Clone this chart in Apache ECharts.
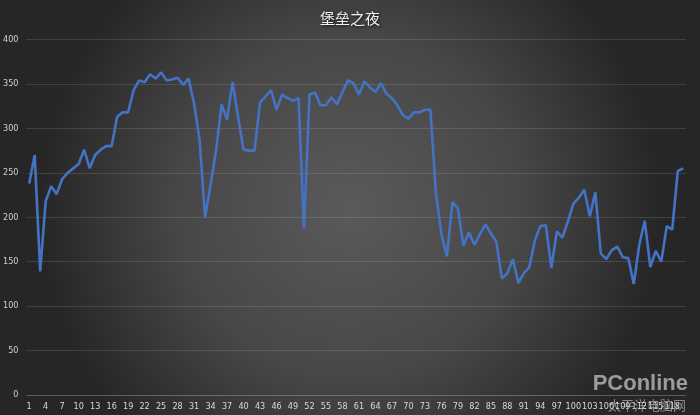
<!DOCTYPE html>
<html>
<head>
<meta charset="utf-8">
<script src="https://cdn.jsdelivr.net/npm/echarts@6/dist/echarts.min.js"></script>
<style>
html,body{margin:0;padding:0;width:700px;height:415px;overflow:hidden;}
#c{width:700px;height:415px;}
</style>
</head>
<body>
<div id="c"></div>
<script>
var titleText = '堡垒之夜';
var categories = [1,2,3,4,5,6,7,8,9,10,11,12,13,14,15,16,17,18,19,20,
21,22,23,24,25,26,27,28,29,30,31,32,33,34,35,36,37,38,39,40,
41,42,43,44,45,46,47,48,49,50,51,52,53,54,55,56,57,58,59,60,
61,62,63,64,65,66,67,68,69,70,71,72,73,74,75,76,77,78,79,80,
81,82,83,84,85,86,87,88,89,90,91,92,93,94,95,96,97,98,99,100,
101,102,103,104,105,106,107,108,109,110,111,112,113,114,115,116,117,118,119,120];
var values = [238,270,139,218,235,226,243,250,255,260,276,255,270,276,280,280,313,318,318,343,
354,352,361,356,363,354,355,357,349,356,328,287,200,237,275,327,310,352,313,276,
275,275,329,336,343,321,338,334,331,334,187,338,340,326,326,335,327,341,354,351,
338,353,346,341,351,339,334,326,315,311,318,318,321,321,227,181,156,217,210,168,
183,169,181,192,182,172,131,137,153,126,137,144,174,190,191,143,184,177,195,215,
222,231,201,228,159,153,163,167,155,154,125,169,196,144,162,150,190,186,252,255];
var yTicks = {min:0, max:400, step:50};

var labelFont = '"Liberation Sans Narrow", "DejaVu Sans Condensed", "Liberation Sans", Arial, sans-serif';
var chart = echarts.init(document.getElementById('c'), null, {renderer:'canvas'});
chart.setOption({
  backgroundColor: {
    type:'radial', x:0.5, y:0.5, r:0.75,
    colorStops:[{offset:0,color:'#5a5a5a'},{offset:0.55,color:'#474747'},{offset:1,color:'#262626'}]
  },
  title: {
    text: titleText, left:'center', top:6,
    textStyle:{color:'#f2f2f2', fontSize:15, fontWeight:'normal',
      fontFamily:'"Noto Sans CJK SC", sans-serif',
      textShadowColor:'rgba(0,0,0,0.8)', textShadowBlur:3, textShadowOffsetX:1, textShadowOffsetY:1}
  },
  grid: {left:26, right:14, top:39.5, bottom:20, containLabel:false},
  xAxis: {
    type:'category', data:categories, boundaryGap:true,
    axisLine:{show:true, lineStyle:{color:'rgba(255,255,255,0.15)'}},
    axisTick:{show:false},
    axisLabel:{interval:2, color:'#d9d9d9', fontSize:9, margin:7, fontFamily:labelFont},
    splitLine:{show:false}
  },
  yAxis: {
    type:'value', min:yTicks.min, max:yTicks.max, interval:yTicks.step,
    axisLine:{show:false}, axisTick:{show:false},
    axisLabel:{color:'#d0d0d0', fontSize:9, margin:8, fontFamily:labelFont},
    splitLine:{lineStyle:{color:'rgba(255,255,255,0.12)', width:1}}
  },
  graphic: [
    {type:'text', right:12, bottom:20, style:{text:'PConline', fill:'rgba(205,205,205,0.7)', font:'bold 22px "Liberation Sans", Arial, sans-serif'}},
    {type:'text', right:14, bottom:3, style:{text:'太平洋电脑网', fill:'rgba(205,205,205,0.6)', font:'13px "Noto Sans CJK SC", sans-serif'}}
  ],
  series: [{
    type:'line', data:values, symbol:'none', smooth:false,
    lineStyle:{color:'#4472C4', width:2.6},
    itemStyle:{color:'#4472C4'},
    z:3
  }],
  animation:false
});
</script>
</body>
</html>
